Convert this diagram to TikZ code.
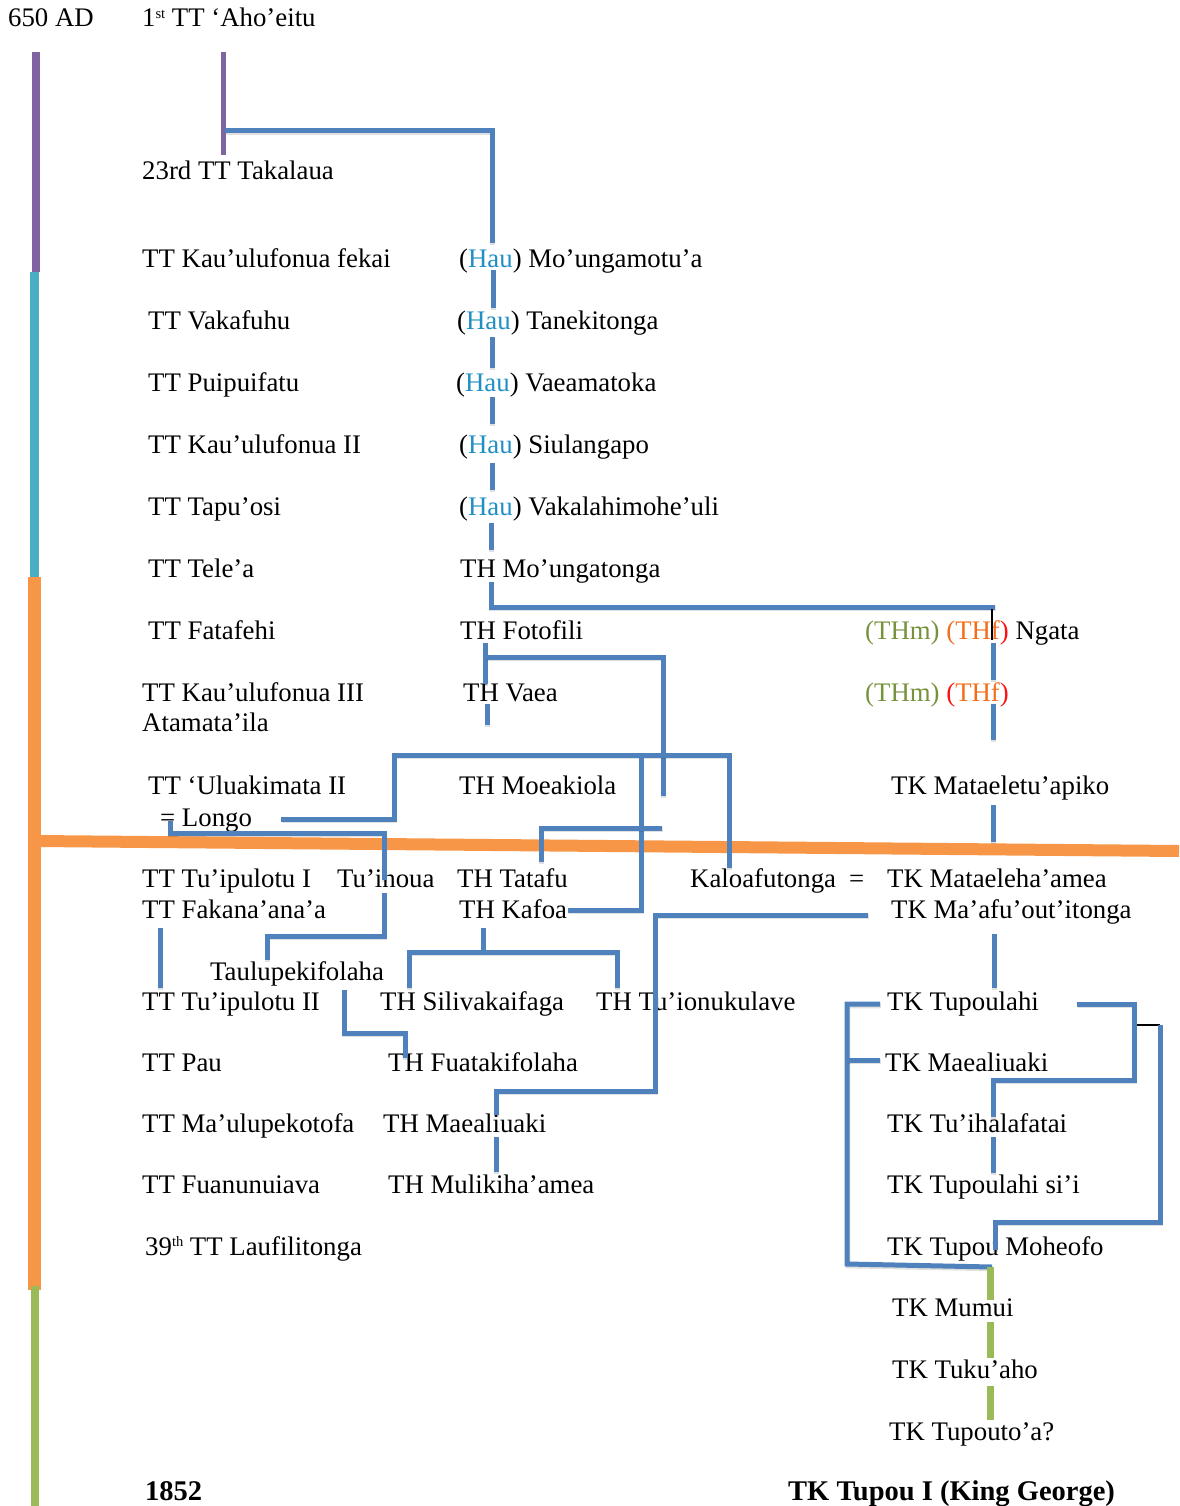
\documentclass[tikz,border=0pt]{standalone}
\usepackage{fontspec}
\setmainfont{Liberation Serif}
\definecolor{linkblue}{HTML}{4F81BD}
\definecolor{erapurple}{HTML}{8064A2}
\definecolor{erateal}{HTML}{4BACC6}
\definecolor{eraorange}{HTML}{F79646}
\definecolor{eragreen}{HTML}{9BBB59}
\definecolor{haucol}{RGB}{33,143,196}
\definecolor{thmcol}{HTML}{76923C}
\definecolor{thfcol}{RGB}{242,110,28}
\definecolor{thfred}{RGB}{250,20,20}
\newcommand{\ordsup}[1]{\raisebox{8.5pt}{\fontsize{14.5}{15}\selectfont #1}}
\begin{document}
\begin{tikzpicture}[x=1pt,y=-1pt,
  person/.style={anchor=base west, inner sep=0pt, font=\fontsize{26.8}{30}\selectfont},
  heading/.style={person, font=\fontsize{28.5}{32}\selectfont\bfseries},
  link/.style={draw=linkblue, line width=5pt, line join=miter,
    preaction={draw=black, opacity=0.12, line width=5pt,
      transform canvas={shift={(0.8pt,-1.8pt)}}}},
  thinlink/.style={draw=black, line width=1.3pt},
  greenlink/.style={draw=eragreen, line width=7pt},
  era/.style={line width=#1}
]
\useasboundingbox (0,0) rectangle (1179,1506);

% ---- era bar on the left and the contact line ----
\draw[era=8pt, draw=erapurple] (35.5,52) -- (35.5,272);
\draw[era=9pt, draw=erateal] (34.5,272) -- (34.5,577);
\draw[era=13pt, draw=eraorange] (34.5,577) -- (34.5,1290);
\draw[era=8pt, draw=eragreen] (35,1286) -- (35,1506);
\draw[era=12pt, draw=eraorange] (36,841) -- (1179,851);
\draw[era=5pt, draw=erapurple] (223,52) -- (223,155);

% ---- Tu'i Tonga line ----
\node[person] (ad650) at (8,27) {650 AD};
\node[person] (aho) at (142,27) {1\ordsup{st} TT ‘Aho’eitu};
\node[person] (takalaua) at (142,180) {23rd TT Takalaua};
\node[person] (kaufekai) at (142,267) {TT Kau’ulufonua fekai};
\node[person] (vakafuhu) at (148,329) {TT Vakafuhu};
\node[person] (puipui) at (148,391) {TT Puipuifatu};
\node[person] (kautwo) at (148,453) {TT Kau’ulufonua II};
\node[person] (tapuosi) at (148,515) {TT Tapu’osi};
\node[person] (telea) at (148,577) {TT Tele’a};
\node[person] (fatafehi) at (148,639) {TT Fatafehi};
\node[person] (kauthree) at (142,701) {TT Kau’ulufonua III};
\node[person] (atamata) at (142,731) {Atamata’ila};
\node[person] (ulua) at (148,794) {TT ‘Uluakimata II};
\node[person] (longo) at (160,826) {= Longo};
\node[person] (tuipuone) at (142,887) {TT Tu’ipulotu I};
\node[person] (tuihoua) at (337,887) {Tu’ihoua};
\node[person] (fakana) at (142,918) {TT Fakana’ana’a};
\node[person] (taulupe) at (210,980) {Taulupekifolaha};
\node[person] (tuiputwo) at (142,1010) {TT Tu’ipulotu II};
\node[person] (pau) at (142,1071) {TT Pau};
\node[person] (maulupe) at (142,1132) {TT Ma’ulupekotofa};
\node[person] (fuanunu) at (142,1193) {TT Fuanunuiava};
\node[person] (laufili) at (145,1255) {39\ordsup{th} TT Laufilitonga};
\node[heading] (yr1852) at (145,1500) {1852};

% ---- Tu'i Ha'atakalaua line ----
\node[person] (hauone) at (459,267) {(\textcolor{haucol}{Hau}) Mo’ungamotu’a};
\node[person] (hautwo) at (457,329) {(\textcolor{haucol}{Hau}) Tanekitonga};
\node[person] (hauthree) at (456,391) {(\textcolor{haucol}{Hau}) Vaeamatoka};
\node[person] (haufour) at (459,453) {(\textcolor{haucol}{Hau}) Siulangapo};
\node[person] (haufive) at (459,515) {(\textcolor{haucol}{Hau}) Vakalahimohe’uli};
\node[person] (moungatonga) at (460,577) {TH Mo’ungatonga};
\node[person] (fotofili) at (460,639) {TH Fotofili};
\node[person] (vaea) at (463,701) {TH Vaea};
\node[person] (moeakiola) at (459,794) {TH Moeakiola};
\node[person] (tatafu) at (457,887) {TH Tatafu};
\node[person] (kafoa) at (459,918) {TH Kafoa};
\node[person] (siliva) at (380,1010) {TH Silivakaifaga};
\node[person] (tuiono) at (596,1010) {TH Tu’ionukulave};
\node[person] (fuataki) at (388,1071) {TH Fuatakifolaha};
\node[person] (maealiTH) at (383,1132) {TH Maealiuaki};
\node[person] (mulikiha) at (388,1193) {TH Mulikiha’amea};
\node[person] (kaloa) at (690,887) {Kaloafutonga};
\node[person] (kaloaeq) at (849,887) {=};

% ---- Tu'i Kanokupolu line ----
\node[person] (ngata) at (865,639) {\textcolor{thmcol}{(THm)} \textcolor{thfcol}{(THf}\textcolor{thfred}{)} Ngata};
\node[person] (thmthf) at (865,701) {\textcolor{thmcol}{(THm)} \textcolor{thfred}{(}\textcolor{thfcol}{THf}\textcolor{thfred}{)}};
\node[person] (mataeletu) at (891,794) {TK Mataeletu’apiko};
\node[person] (mataeleha) at (887,887) {TK Mataeleha’amea};
\node[person] (maafu) at (891,918) {TK Ma’afu’out’itonga};
\node[person] (tupoulahi) at (887,1010) {TK Tupoulahi};
\node[person] (maealiTK) at (885,1071) {TK Maealiuaki};
\node[person] (tuihala) at (887,1132) {TK Tu’ihalafatai};
\node[person] (tupoulahisii) at (887,1193) {TK Tupoulahi si’i};
\node[person] (moheofo) at (887,1255) {TK Tupou Moheofo};
\node[person] (mumui) at (892,1316) {TK Mumui};
\node[person] (tukuaho) at (892,1378) {TK Tuku’aho};
\node[person] (tupoutoa) at (889,1440) {TK Tupouto’a?};
\node[heading] (george) at (788,1500) {TK Tupou I (King George)};

% ---- descent links ----
\draw[link] (225,131) -- (492,131) -- (492,243);
\draw[link] (493,270) -- (493,308);
\draw[link] (492,337) -- (492,368);
\draw[link] (492,397) -- (492,424);
\draw[link] (492,463) -- (492,490);
\draw[link] (491,523) -- (491,550);
\draw[link] (491,582) -- (491,607) -- (995,607);
\draw[thinlink] (992,609) -- (992,640);
\draw[link] (993,643) -- (993,680);
\draw[link] (993,704) -- (993,740);
\draw[link] (993,805) -- (993,842);

\draw[link] (485,643) -- (485,684);
\draw[link] (487,704) -- (487,725);
\draw[link] (485,657) -- (663,657) -- (663,796);

\draw[link] (281,819) -- (394,819) -- (394,755) -- (729,755) -- (729,868);
\draw[link] (641,758) -- (641,910) -- (568,910);
\draw[link] (662,828) -- (541,828) -- (541,862);

\draw[link] (170,821) -- (170,833) -- (384,833) -- (384,880);
\draw[link] (384,893) -- (384,936) -- (267,936) -- (267,960);
\draw[link] (160,928) -- (160,988);
\draw[link] (344,990) -- (344,1033) -- (405,1033) -- (405,1058);
\draw[link] (483,928) -- (483,952);
\draw[link] (409,988) -- (409,952) -- (617,952) -- (617,988);

\draw[link] (868,915) -- (655,915) -- (655,1091) -- (496,1091) -- (496,1115);
\draw[link] (496,1137) -- (496,1172);

\draw[link] (994,934) -- (994,988);
\draw[link] (880,1004) -- (847,1004) -- (847,1264) -- (992,1267);
\draw[link] (847,1060) -- (880,1060);
\draw[link] (1077,1004) -- (1134,1004) -- (1134,1080) -- (993,1080) -- (993,1117);
\draw[thinlink] (1137,1025) -- (1160,1025);
\draw[link] (1160,1025) -- (1160,1222) -- (995,1222) -- (995,1250);
\draw[link] (993,1137) -- (993,1173);

\draw[greenlink] (990,1267) -- (990,1300);
\draw[greenlink] (990,1322) -- (990,1358);
\draw[greenlink] (990,1386) -- (990,1420);
\end{tikzpicture}
\end{document}
